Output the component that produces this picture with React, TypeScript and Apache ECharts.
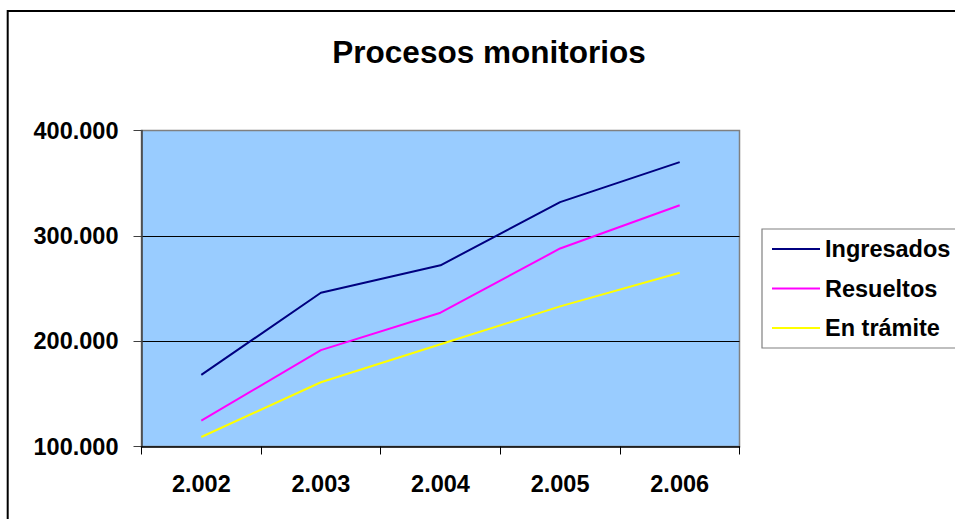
import React, { useEffect, useRef } from "react";
import * as echarts from "echarts";

const title = "Procesos monitorios";
const categories = ["2.002", "2.003", "2.004", "2.005", "2.006"];
const ingresados = [168000, 246000, 272000, 332000, 370000];
const resueltos = [124500, 191500, 227000, 288000, 329000];
const enTramite = [109000, 161000, 197000, 233000, 265000];
const yTickValues = [100000, 200000, 300000, 400000];
const yTickLabels = ["100.000", "200.000", "300.000", "400.000"];

export default function App() {
  const ref = useRef<HTMLDivElement>(null);
  useEffect(() => {
    if (!ref.current) return;
    const chart = echarts.init(ref.current, null, { renderer: "svg" });
    const font = "'Liberation Sans', Arial, sans-serif";
    chart.setOption({
      animation: false,
      backgroundColor: "#ffffff",
      textStyle: { fontFamily: font },
      title: {
        text: title,
        left: 489,
        top: 36,
        padding: 0,
        textAlign: "center",
        textStyle: { fontFamily: font, fontSize: 31.5, fontWeight: "bold", color: "#000" },
      },
      graphic: [
        {
          type: "rect",
          shape: { x: 7.7, y: 10.9, width: 965, height: 525 },
          style: { fill: "none", stroke: "#000", lineWidth: 2 },
          z: 100,
        },
      ],
      legend: {
        orient: "vertical",
        left: 762,
        top: 229,
        padding: [8, 20, 8, 10],
        itemGap: 15.5,
        itemWidth: 48,
        itemHeight: 2,
        itemTextGap: 7,
        icon: "rect",
        borderColor: "#808080",
        borderWidth: 1.2,
        backgroundColor: "#fff",
        textStyle: { fontFamily: font, fontSize: 23.5, fontWeight: "bold", color: "#000" },
        data: ["Ingresados", "Resueltos", "En trámite"],
      },
      grid: {
        left: 141.5,
        top: 130.5,
        width: 598,
        height: 316,
        show: true,
        backgroundColor: "#99CCFF",
        borderColor: "#808080",
        borderWidth: 1.5,
        containLabel: false,
      },
      xAxis: {
        type: "category",
        data: categories,
        boundaryGap: true,
        axisLine: { show: true, lineStyle: { color: "#000", width: 1.5 } },
        axisTick: { show: true, interval: 0, length: 8, lineStyle: { color: "#000", width: 1 } },
        axisLabel: {
          interval: 0,
          margin: 25,
          fontFamily: font,
          fontSize: 23.5,
          fontWeight: "bold",
          color: "#000",
        },
        splitLine: { show: false },
      },
      yAxis: {
        type: "value",
        min: 100000,
        max: 400000,
        interval: 100000,
        axisLine: { show: true, lineStyle: { color: "#404040", width: 1.5 } },
        axisTick: { show: true, length: 8, lineStyle: { color: "#404040", width: 1 } },
        axisLabel: {
          margin: 23,
          fontFamily: font,
          fontSize: 23.5,
          fontWeight: "bold",
          color: "#000",
          formatter: (v: number) => {
            const i = yTickValues.indexOf(v);
            return i >= 0 ? yTickLabels[i] : "";
          },
        },
        splitLine: {
          show: true,
          showMinLine: false,
          showMaxLine: false,
          lineStyle: { color: "#000", width: 1 },
        },
      },
      series: [
        {
          name: "Ingresados",
          type: "line",
          data: ingresados,
          symbol: "none",
          lineStyle: { color: "#000080", width: 2 },
          itemStyle: { color: "#000080" },
        },
        {
          name: "Resueltos",
          type: "line",
          data: resueltos,
          symbol: "none",
          lineStyle: { color: "#FF00FF", width: 2 },
          itemStyle: { color: "#FF00FF" },
        },
        {
          name: "En trámite",
          type: "line",
          data: enTramite,
          symbol: "none",
          lineStyle: { color: "#FFFF00", width: 2 },
          itemStyle: { color: "#FFFF00" },
        },
      ],
    });
    return () => chart.dispose();
  }, []);
  return (
    <div
      ref={ref}
      style={{ position: "absolute", left: 0, top: 0, width: 955, height: 519 }}
    />
  );
}
